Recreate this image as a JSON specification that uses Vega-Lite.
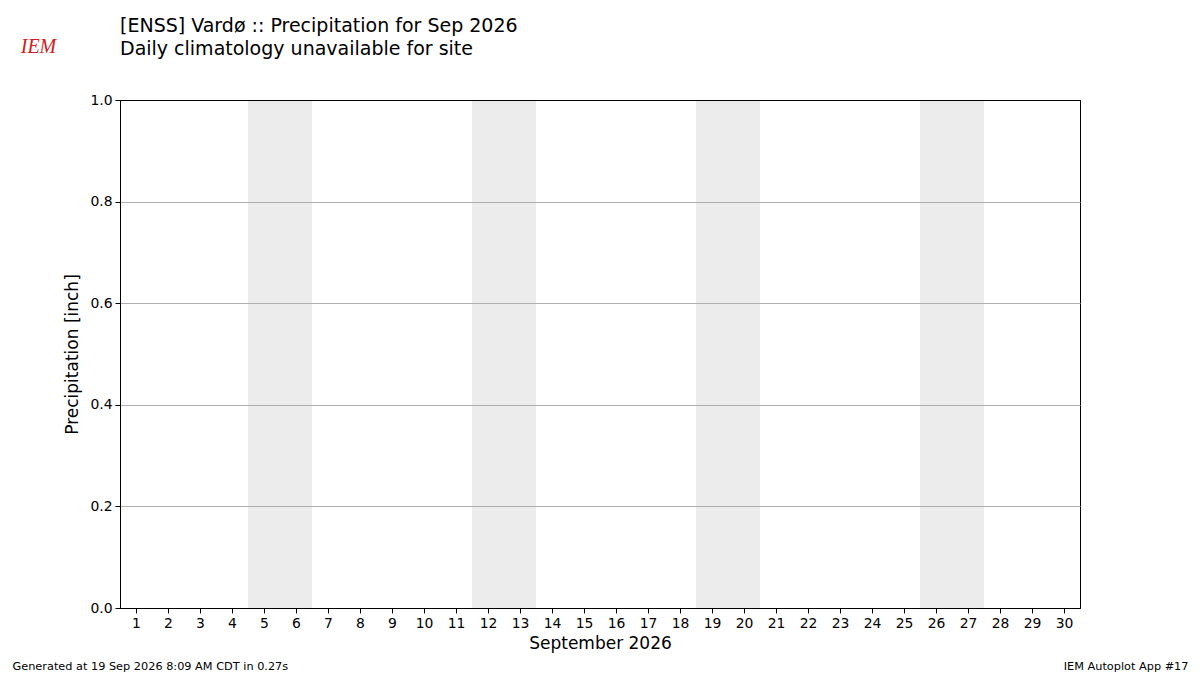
{
  "$schema": "https://vega.github.io/schema/vega-lite/v6.json",
  "width": 960,
  "height": 508,
  "autosize": {"type": "none"},
  "padding": {"left": 120, "top": 100, "right": 120, "bottom": 67},
  "background": "white",
  "title": {
    "text": "[ENSS] Vardø :: Precipitation for Sep 2026",
    "subtitle": "Daily climatology unavailable for site",
    "anchor": "start",
    "frame": "group",
    "font": "DejaVu Sans",
    "fontSize": 19,
    "fontWeight": "normal",
    "subtitleFont": "DejaVu Sans",
    "subtitleFontSize": 19,
    "subtitleColor": "black",
    "subtitlePadding": 4,
    "color": "black",
    "offset": -22.5
  },
  "config": {
    "view": {"stroke": "black", "strokeWidth": 1},
    "font": "DejaVu Sans"
  },
  "resolve": {"scale": {"x": "independent", "y": "independent"}},
  "layer": [
    {
      "data": {
        "values": [
          {"start": 4.5, "end": 6.5, "weekend": "Sep 5-6"},
          {"start": 11.5, "end": 13.5, "weekend": "Sep 12-13"},
          {"start": 18.5, "end": 20.5, "weekend": "Sep 19-20"},
          {"start": 25.5, "end": 27.5, "weekend": "Sep 26-27"}
        ]
      },
      "mark": {"type": "rect", "color": "#ececec"},
      "encoding": {
        "x": {
          "field": "start",
          "type": "quantitative",
          "scale": {"domain": [0.5, 30.5], "nice": false, "zero": false},
          "axis": {
            "orient": "bottom",
            "title": "September 2026",
            "titleFont": "DejaVu Sans",
            "titleFontSize": 17,
            "titleFontWeight": "normal",
            "titleColor": "black",
            "titlePadding": 6,
            "values": [1,2,3,4,5,6,7,8,9,10,11,12,13,14,15,16,17,18,19,20,21,22,23,24,25,26,27,28,29,30],
            "format": "d",
            "labelFont": "DejaVu Sans",
            "labelFontSize": 13.9,
            "labelColor": "black",
            "labelPadding": 3,
            "labelFlush": false,
            "labelOverlap": false,
            "tickColor": "black",
            "tickSize": 5,
            "domainColor": "black",
            "grid": false
          }
        },
        "x2": {"field": "end"},
        "y": {
          "datum": 0,
          "type": "quantitative",
          "scale": {"domain": [0, 1], "nice": false},
          "axis": {
            "orient": "left",
            "title": "Precipitation [inch]",
            "titleFont": "DejaVu Sans",
            "titleFontSize": 17,
            "titleFontWeight": "normal",
            "titleColor": "black",
            "titlePadding": 8,
            "values": [0, 0.2, 0.4, 0.6, 0.8, 1.0],
            "format": ".1f",
            "labelFont": "DejaVu Sans",
            "labelFontSize": 13.9,
            "labelColor": "black",
            "labelPadding": 3,
            "labelFlush": false,
            "tickColor": "black",
            "tickSize": 5,
            "domainColor": "black",
            "grid": true,
            "gridColor": {
              "condition": {"test": "datum.value <= 0 || datum.value >= 1", "value": "black"},
              "value": "#b0b0b0"
            },
            "gridWidth": 1,
            "zindex": 1
          }
        },
        "y2": {"datum": 1}
      }
    },
    {
      "data": {"values": [{"note": ""}]},
      "mark": {"type": "text"},
      "encoding": {
        "text": {"field": "note"},
        "x": {
          "datum": 0,
          "type": "quantitative",
          "axis": {
            "orient": "bottom",
            "title": "Generated at 19 Sep 2026 8:09 AM CDT in 0.27s",
            "titleFont": "DejaVu Sans",
            "titleFontSize": 11.3,
            "titleFontWeight": "normal",
            "titleColor": "black",
            "titleAnchor": "start",
            "titleAlign": "left",
            "titleBaseline": "alphabetic",
            "titleX": -108,
            "titleY": 61,
            "domain": false,
            "ticks": false,
            "labels": false,
            "grid": false
          }
        },
        "y": {
          "datum": 0,
          "type": "quantitative",
          "axis": {
            "orient": "left",
            "title": "IEM",
            "titleFont": "Liberation Serif",
            "titleFontSize": 20,
            "titleFontStyle": "italic",
            "titleFontWeight": "normal",
            "titleColor": "#d42020",
            "titleAngle": 0,
            "titleAlign": "center",
            "titleBaseline": "alphabetic",
            "titleX": -82,
            "titleY": -48,
            "domain": false,
            "ticks": false,
            "labels": false,
            "grid": false
          }
        }
      }
    },
    {
      "data": {"values": [{"note": ""}]},
      "mark": {"type": "text"},
      "encoding": {
        "text": {"field": "note"},
        "x": {
          "datum": 0,
          "type": "quantitative",
          "axis": {
            "orient": "bottom",
            "title": "IEM Autoplot App #17",
            "titleFont": "DejaVu Sans",
            "titleFontSize": 11.3,
            "titleFontWeight": "normal",
            "titleColor": "black",
            "titleAnchor": "end",
            "titleAlign": "right",
            "titleBaseline": "alphabetic",
            "titleX": 1068,
            "titleY": 61,
            "domain": false,
            "ticks": false,
            "labels": false,
            "grid": false
          }
        },
        "y": {"datum": 0, "type": "quantitative", "axis": null}
      }
    }
  ]
}
